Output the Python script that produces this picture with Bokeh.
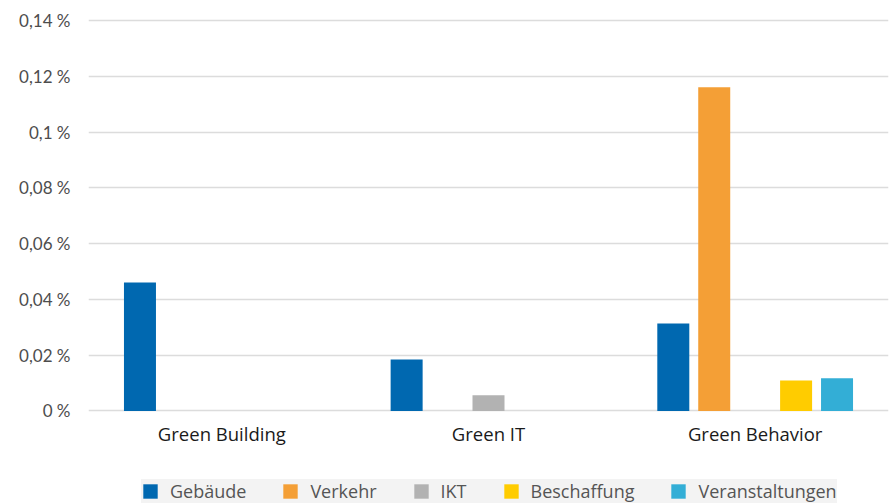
from bokeh.plotting import figure
from bokeh.models import Range1d, FixedTicker, ColumnDataSource
from bokeh.core.properties import value
from bokeh.embed import file_html
from bokeh.resources import INLINE

# ---- data ----
categories = ["Green Building", "Green IT", "Green Behavior"]
series = ["Gebäude", "Verkehr", "IKT", "Beschaffung", "Veranstaltungen"]
gebaeude = [0.0461, 0.0185, 0.0314]
verkehr = [None, None, 0.1161]
ikt = [None, 0.0056, None]
beschaffung = [None, None, 0.0109]
veranstaltungen = [None, None, 0.0117]
values = [gebaeude, verkehr, ikt, beschaffung, veranstaltungen]

bar_colors = ["#0068b0", "#f49f36", "#b2b2b2", "#ffcc00", "#33aed6"]

y_ticks = [0, 0.02, 0.04, 0.06, 0.08, 0.1, 0.12, 0.14]
y_tick_labels = ["0 %", "0,02 %", "0,04 %", "0,06 %", "0,08 %", "0,1 %", "0,12 %", "0,14 %"]

# ---- figure ----
p = figure(width=892, height=503, output_backend="svg", toolbar_location=None,
           x_range=Range1d(0, len(categories)), y_range=Range1d(-0.0332, 0.1408),
           min_border_left=88, min_border_right=4, min_border_top=18, min_border_bottom=0)
p.outline_line_color = None
p.background_fill_color = "white"

step = 0.1535
bw = 0.12
centers = [i + 0.5 for i in range(len(categories))]
for k, name in enumerate(series):
    xs, tops = [], []
    for i, v in enumerate(values[k]):
        if v is not None:
            xs.append(centers[i] + (k - 2) * step)
            tops.append(v)
    src = ColumnDataSource(dict(x=xs, top=tops))
    p.vbar(x="x", top="top", bottom=0, width=bw, source=src,
           fill_color=bar_colors[k], line_color=None, legend_label=name)

# category labels under the zero line
p.text(x=centers, y=[0] * len(categories), text=categories,
       text_align="center", text_baseline="middle", y_offset=23,
       text_font=value("Open Sans"), text_font_size=value("18.5px"),
       text_color="#1a1a1a")

legend = p.legend[0]
legend.orientation = "horizontal"
legend.location = (53, 0)
legend.background_fill_color = "#f3f3f3"
legend.background_fill_alpha = 1
legend.border_line_color = None
legend.glyph_width = 18
legend.glyph_height = 18
legend.label_standoff = 11
legend.spacing = 35
legend.padding = 9
legend.margin = 0
legend.label_text_font = "Open Sans"
legend.label_text_font_size = "18px"
legend.label_text_color = "#555555"

# axes
p.xaxis.visible = False
p.xgrid.grid_line_color = None

p.yaxis.ticker = FixedTicker(ticks=y_ticks)
p.yaxis.major_label_overrides = {t: lab for t, lab in zip(y_ticks, y_tick_labels)}
p.yaxis.axis_line_color = None
p.yaxis.major_tick_line_color = None
p.yaxis.minor_tick_line_color = None
p.yaxis.major_tick_out = 0
p.yaxis.major_label_standoff = 18
p.yaxis.major_label_text_font = "Lato"
p.yaxis.major_label_text_font_size = "17px"
p.yaxis.major_label_text_color = "#4d4d4d"

p.ygrid.ticker = FixedTicker(ticks=y_ticks)
p.ygrid.grid_line_color = "#dcdcdc"
p.ygrid.grid_line_width = 1.5

open("out.html", "w").write(file_html(p, INLINE))
